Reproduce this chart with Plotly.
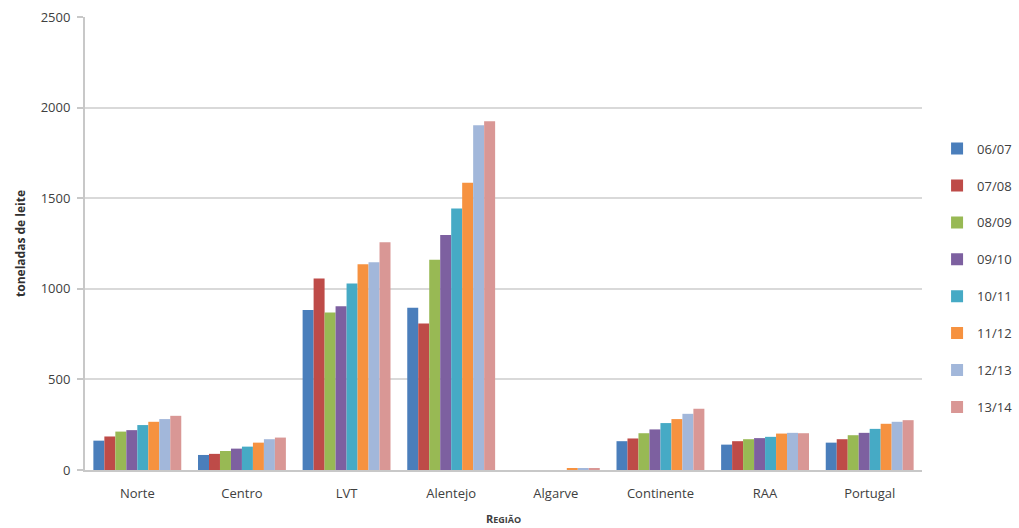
import plotly.graph_objects as go

regioes = ["Norte", "Centro", "LVT", "Alentejo", "Algarve", "Continente", "RAA", "Portugal"]
campanhas = ["06/07", "07/08", "08/09", "09/10", "10/11", "11/12", "12/13", "13/14"]

# toneladas de leite por região, uma lista por campanha
v_0607 = [162, 83, 883, 896, 0, 159, 140, 151]
v_0708 = [185, 89, 1057, 809, 0, 174, 159, 170]
v_0809 = [212, 105, 869, 1160, 0, 203, 170, 192]
v_0910 = [220, 118, 904, 1297, 0, 224, 176, 205]
v_1011 = [248, 129, 1029, 1443, 0, 259, 183, 227]
v_1112 = [266, 151, 1135, 1585, 6, 281, 201, 255]
v_1213 = [281, 170, 1147, 1903, 6, 310, 205, 266]
v_1314 = [299, 179, 1257, 1925, 6, 338, 203, 275]

series = [v_0607, v_0708, v_0809, v_0910, v_1011, v_1112, v_1213, v_1314]
cores = ["#4a7ebb", "#be4b48", "#98b954", "#7d60a0",
         "#46aac5", "#f69240", "#a2b7da", "#d99795"]

fonte = "Open Sans, Lato, sans-serif"

fig = go.Figure()
for nome, valores, cor in zip(campanhas, series, cores):
    fig.add_trace(go.Bar(
        x=regioes, y=valores, name=nome, legendgroup=nome,
        marker=dict(color=cor, line=dict(width=0)),
    ))

fig.update_layout(
    width=1019, height=528,
    margin=dict(l=85, r=97, t=17, b=58, autoexpand=False),
    plot_bgcolor="white", paper_bgcolor="white",
    barmode="group", bargap=0.16, bargroupgap=0,
    font=dict(family=fonte, size=13, color="#404040"),
    legend=dict(
        x=1.018, y=0.4235, xanchor="left", yanchor="middle",
        font=dict(size=13, color="#404040"),
        tracegroupgap=17, bgcolor="rgba(0,0,0,0)",
        itemwidth=30,
    ),
    xaxis=dict(
        showline=True, linecolor="#c8c8c8", linewidth=2,
        showgrid=False, ticks="", ticklabelstandoff=10,
        tickfont=dict(size=13, color="#404040"),
        title=dict(
            text="<b>R<span style='font-size:9px'>EGIÃO</span></b>",
            font=dict(size=11, color="#404040"), standoff=15,
        ),
    ),
    yaxis=dict(
        range=[0, 2500], dtick=500, tick0=0,
        showgrid=True, gridcolor="#d9d9d9", gridwidth=2,
        showline=True, linecolor="#c8c8c8", linewidth=2,
        ticks="outside", ticklen=6, tickcolor="#c8c8c8", tickwidth=2,
        ticklabelstandoff=4,
        zeroline=False,
        tickfont=dict(size=13, color="#404040"),
        title=dict(
            text="<b>toneladas de leite</b>",
            font=dict(size=12, color="#303030"), standoff=12,
        ),
    ),
)

fig.write_html("out.html")
